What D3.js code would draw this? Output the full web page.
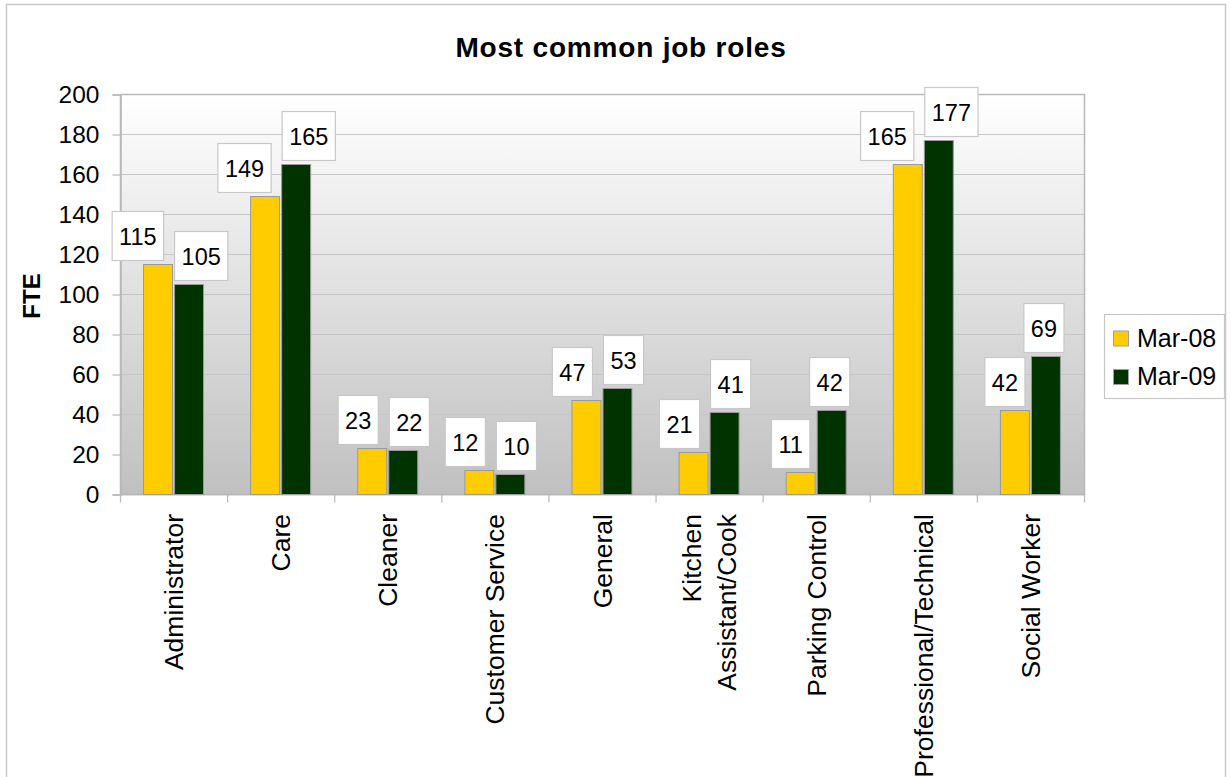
<!DOCTYPE html>
<html>
<head>
<meta charset="utf-8">
<script src="https://cdn.jsdelivr.net/npm/d3@7"></script>
<style>
  html, body { margin: 0; padding: 0; background: #fff; }
  svg { display: block; font-family: "Liberation Sans", Arial, sans-serif; }
</style>
</head>
<body>
<svg id="chart" width="1231" height="777"></svg>
<script>
// Job roles and full-time-equivalent headcounts at two snapshots
const categories = [
  "Administrator", "Care", "Cleaner", "Customer Service", "General",
  "Kitchen Assistant/Cook", "Parking Control", "Professional/Technical", "Social Worker"
];
const categoryLines = [
  ["Administrator"], ["Care"], ["Cleaner"], ["Customer Service"], ["General"],
  ["Kitchen", "Assistant/Cook"], ["Parking Control"], ["Professional/Technical"], ["Social Worker"]
];
const seriesNames = ["Mar-08", "Mar-09"];
const mar08 = [115, 149, 23, 12, 47, 21, 11, 165, 42];
const mar09 = [105, 165, 22, 10, 53, 41, 42, 177, 69];
const yTicks = [0, 20, 40, 60, 80, 100, 120, 140, 160, 180, 200];
const seriesColors = ["#ffcc00", "#003300"];

const seriesValues = [mar08, mar09];
const svg = d3.select("#chart");

const plot = { left: 120.5, right: 1084.5, top: 94.5, bottom: 494.5 };

// Outer frame
svg.append("rect")
  .attr("x", 6.5).attr("y", 4.5).attr("width", 1219).attr("height", 800)
  .attr("fill", "#fff").attr("stroke", "#c8c8c8").attr("stroke-width", 1.5);

// Plot background gradient
const defs = svg.append("defs");
const grad = defs.append("linearGradient").attr("id", "plotBg")
  .attr("x1", 0).attr("y1", 0).attr("x2", 0).attr("y2", 1);
grad.append("stop").attr("offset", "0%").attr("stop-color", "#ffffff");
grad.append("stop").attr("offset", "100%").attr("stop-color", "#c0c0c0");

const x = d3.scaleBand().domain(categories).range([plot.left, plot.right]).padding(0);
const xs = d3.scaleBand().domain(seriesNames)
  .range([x.bandwidth() * 0.215, x.bandwidth() * 0.775]).paddingInner(0.066);
const y = d3.scaleLinear().domain([0, 200]).range([plot.bottom, plot.top]);

svg.append("rect")
  .attr("x", plot.left).attr("y", plot.top)
  .attr("width", plot.right - plot.left).attr("height", plot.bottom - plot.top)
  .attr("fill", "url(#plotBg)");

// Horizontal grid lines
svg.append("g").selectAll("line").data(yTicks.filter(t => t > 0)).join("line")
  .attr("x1", plot.left).attr("x2", plot.right)
  .attr("y1", d => y(d)).attr("y2", d => y(d))
  .attr("stroke", "#c6c6c6").attr("stroke-width", 1.2);

// Plot border
svg.append("rect")
  .attr("x", plot.left).attr("y", plot.top)
  .attr("width", plot.right - plot.left).attr("height", plot.bottom - plot.top)
  .attr("fill", "none").attr("stroke", "#b8b8b8").attr("stroke-width", 1.5);

// Y axis
const yAxis = d3.axisLeft(y).tickValues(yTicks).tickSize(8).tickPadding(13);
const yg = svg.append("g").attr("transform", `translate(${plot.left},0)`).call(yAxis);
yg.select(".domain").attr("stroke", "#b8b8b8").attr("stroke-width", 1.5);
yg.selectAll(".tick line").attr("stroke", "#b8b8b8").attr("stroke-width", 1.2);
yg.selectAll(".tick text")
  .attr("font-family", "Liberation Sans, Arial, sans-serif")
  .attr("font-size", 24.5).attr("fill", "#000");

// X axis: ticks at category boundaries
const boundaries = categories.map(c => x(c)).concat([plot.right]);
svg.append("line")
  .attr("x1", plot.left).attr("x2", plot.right)
  .attr("y1", plot.bottom).attr("y2", plot.bottom)
  .attr("stroke", "#b8b8b8").attr("stroke-width", 1.5);
svg.append("g").selectAll("line").data(boundaries).join("line")
  .attr("x1", d => d).attr("x2", d => d)
  .attr("y1", plot.bottom).attr("y2", plot.bottom + 8)
  .attr("stroke", "#b8b8b8").attr("stroke-width", 1.2);

// Rotated category labels
const catG = svg.append("g");
categories.forEach((c, i) => {
  const lines = categoryLines[i];
  const cx = x(c) + x.bandwidth() / 2;
  const lineH = 35;
  lines.forEach((ln, j) => {
    const bx = cx + 9 + (j - (lines.length - 1) / 2) * lineH;
    catG.append("text")
      .attr("transform", `translate(${bx},514) rotate(-90)`)
      .attr("text-anchor", "end")
      .attr("font-size", 26.5)
      .attr("fill", "#000")
      .text(ln);
  });
});

// Bars
const barG = svg.append("g");
seriesNames.forEach((s, si) => {
  barG.selectAll(null).data(seriesValues[si]).join("rect")
    .attr("x", (d, i) => x(categories[i]) + xs(s))
    .attr("y", d => y(d))
    .attr("width", xs.bandwidth())
    .attr("height", d => plot.bottom - y(d))
    .attr("fill", seriesColors[si])
    .attr("stroke", "#9a9a9a").attr("stroke-width", 1);
});

// Value labels in boxes, pushed apart when the pair would collide
const labelG = svg.append("g");
const baseShift = [-10, -2];
const boxH = 49, gap = 11;
categories.forEach((c, i) => {
  const boxes = seriesNames.map((s, si) => {
    const v = seriesValues[si][i];
    const t = labelG.append("text")
      .attr("font-size", 23.5).attr("fill", "#000")
      .attr("text-anchor", "middle")
      .text(v);
    const w = t.node().getComputedTextLength() + 14;
    const cx = x(c) + xs(s) + xs.bandwidth() / 2 + baseShift[si];
    const bottom = y(v) - 4;
    return { t, w, cx, bottom, top: bottom - boxH };
  });
  const [a, b] = boxes;
  const vOverlap = a.top < b.bottom && b.top < a.bottom;
  const need = (a.w + b.w) / 2 + gap;
  if (vOverlap && b.cx - a.cx < need) {
    const mid = (a.cx + b.cx) / 2 + 2;
    a.cx = mid - need / 2;
    b.cx = mid + need / 2;
  }
  boxes.forEach(bx => {
    labelG.insert("rect", "text")
      .attr("x", bx.cx - bx.w / 2).attr("y", bx.top)
      .attr("width", bx.w).attr("height", boxH)
      .attr("fill", "#fff").attr("stroke", "#c8c8c8").attr("stroke-width", 1.2);
    bx.t.attr("x", bx.cx).attr("y", bx.top + boxH / 2 + 8.5);
  });
});

// Title
svg.append("text")
  .attr("x", 621).attr("y", 57)
  .attr("text-anchor", "middle")
  .attr("font-size", 28).attr("font-weight", "bold")
  .attr("letter-spacing", 0.8)
  .text("Most common job roles");

// Y axis title
svg.append("text")
  .attr("transform", "translate(40,296) rotate(-90)")
  .attr("text-anchor", "middle")
  .attr("font-size", 24).attr("font-weight", "bold")
  .text("FTE");

// Legend
const leg = svg.append("g");
leg.append("rect")
  .attr("x", 1104.5).attr("y", 314.5).attr("width", 120).attr("height", 84)
  .attr("fill", "#fff").attr("stroke", "#c8c8c8").attr("stroke-width", 1.2);
seriesNames.forEach((s, si) => {
  const yy = 331 + si * 38.5;
  leg.append("rect")
    .attr("x", 1113.5).attr("y", yy).attr("width", 15).attr("height", 15)
    .attr("fill", seriesColors[si]).attr("stroke", "#a0a0a0").attr("stroke-width", 1);
  leg.append("text")
    .attr("x", 1137).attr("y", yy + 15.5)
    .attr("font-size", 25).attr("fill", "#000")
    .text(s);
});
</script>
</body>
</html>
